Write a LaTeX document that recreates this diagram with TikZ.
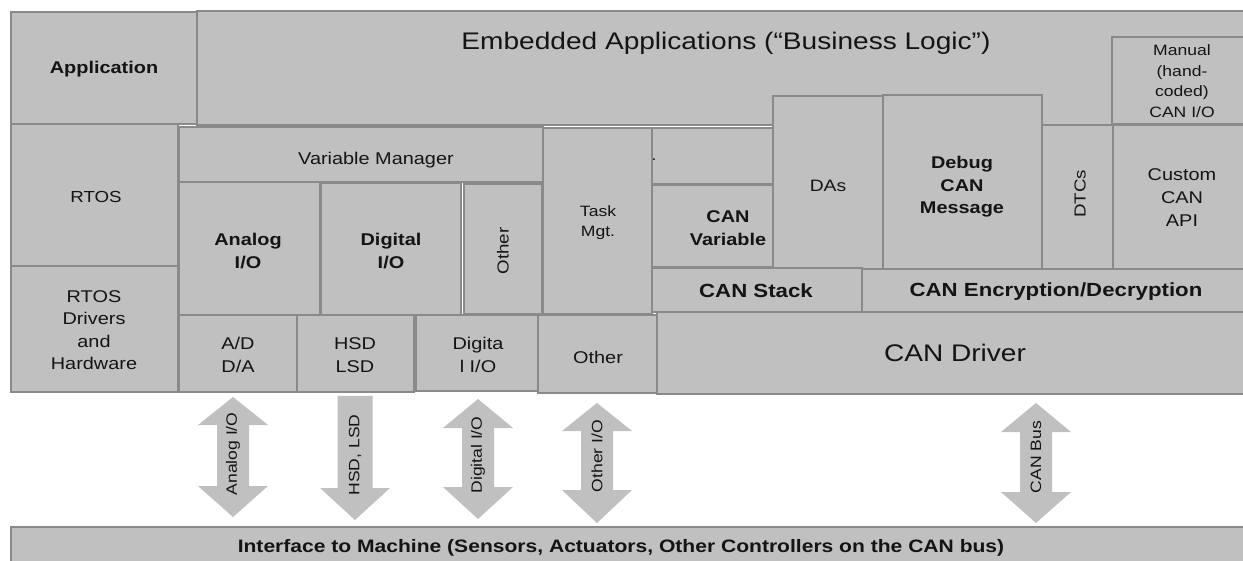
\documentclass[tikz,border=0pt]{standalone}
\usepackage{fontspec}
\setmainfont{Liberation Sans}[FakeStretch=1.17]
\usetikzlibrary{calc}

\definecolor{panel}{HTML}{C0C0C0}
\definecolor{edge}{HTML}{8A8A8A}
\definecolor{ink}{HTML}{141414}

\tikzset{
  blk/.style={draw=edge, fill=panel, line width=1.4pt, inner sep=0pt, outer sep=0pt},
  lbl/.style={text=ink, align=center, inner sep=0pt},
  fs/.style 2 args={font=\fontsize{#1}{#2}\selectfont},
  fb/.style 2 args={font=\fontsize{#1}{#2}\selectfont\bfseries},
  iolbl/.style={text=ink, inner sep=0pt, rotate=90, font=\fontsize{15}{18}\selectfont},
  fatarrow/.style={fill=panel, draw=none}
}

% layer box: name, left, top, right, bottom (pixel units, y downward)
\newcommand{\layerbox}[5]{%
  \pgfmathsetmacro{\lbw}{#4-#2}\pgfmathsetmacro{\lbh}{#5-#3}%
  \node[blk, minimum width=\lbw pt, minimum height=\lbh pt, anchor=north west] (#1) at (#2,#3) {};}

% two-headed fat arrow: centre x, top tip, bottom tip, top head length, bottom head length
\newcommand{\biarrow}[5]{%
  \fill[fatarrow] (#1,#2) -- ++(35,#4) -- ++(-19,0) |- ($(#1,#3)+(16,-#5)$) -- ++(19,0)
    -- (#1,#3) -- ++(-35,-#5) -- ++(19,0) |- ($(#1,#2)+(-16,#4)$) -- ++(-19,0) -- cycle;}

% one-headed fat arrow pointing down: centre x, shaft top, tip, head length
\newcommand{\outarrow}[4]{%
  \fill[fatarrow] ($(#1,#2)+(-17.5,0)$) -- ++(35,0) |- ($(#1,#3)+(35,-#4)$)
    -- (#1,#3) -- ++(-35,-#4) -| cycle;}

\begin{document}
\begin{tikzpicture}[x=1pt, y=-1pt]
\clip (0,0) rectangle (1243,561);
\fill[white] (0,0) rectangle (1243,561);

% application layer
\layerbox{emb}{197}{11}{1246}{125}
\layerbox{app}{11}{12}{197}{124}
\layerbox{man}{1112}{37}{1246}{124}
\layerbox{das}{773}{96}{883}{269}
\layerbox{dbg}{883}{95}{1042}{269}
\layerbox{dtc}{1042}{125}{1113}{269}
\layerbox{cus}{1113}{125}{1246}{269}

% middleware layer
\layerbox{rtos}{11}{124}{178}{266}
\layerbox{rdrv}{11}{266}{178}{392}
\layerbox{vm}{179}{127}{543}{182}
\layerbox{task}{543}{128}{652}{314}
\layerbox{dot}{652}{128}{773}{184}
\layerbox{canv}{652}{185}{773}{267}
\layerbox{ana}{179}{182}{320}{315}
\layerbox{dig}{321}{183}{461}{315}
\layerbox{oth}{464}{184}{542}{314}
\layerbox{cstk}{652}{268}{862}{312}
\layerbox{cenc}{862}{269}{1246}{313}

% driver layer
\layerbox{cdrv}{657}{312}{1246}{394}
\layerbox{ad}{179}{315}{297}{392}
\layerbox{hsd}{297}{315}{414}{392}
\layerbox{dio}{416}{315}{538}{391}
\layerbox{othb}{538}{315}{657}{393}

% machine interface
\layerbox{ifc}{11}{527}{1246}{566}

% labels
\node[lbl, fs={24}{28}] at (726,43) {Embedded Applications (“Business Logic”)};
\node[lbl, fb={17}{21}] at (104,69) {Application};
\node[lbl, fs={15}{20.5}] at (1182,81) {Manual\\(hand-\\coded)\\CAN I/O};
\node[lbl, fs={17}{21}] at (376,160) {Variable Manager};
\node[lbl, fs={16}{21}] at (96,197) {RTOS};
\node[lbl, fs={17}{22.5}] at (94,330) {RTOS\\Drivers\\and\\Hardware};
\node[lbl, fb={17}{23}] at (248,251) {Analog\\I/O};
\node[lbl, fb={17}{23}] at (391,251) {Digital\\I/O};
\node[lbl, fs={16}{20}, rotate=90] at (503,251) {Other};
\node[lbl, fs={15}{20}] at (598,223) {Task\\Mgt.};
\node[lbl, fs={15}{20}] at (654,160) {.};
\node[lbl, fb={17}{23}] at (728,228) {CAN\\Variable};
\node[lbl, fs={16.5}{21}] at (828,186) {DAs};
\node[lbl, fb={17}{22.5}] at (962,187) {Debug\\CAN\\Message};
\node[lbl, fs={16}{20}, rotate=90] at (1080,194) {DTCs};
\node[lbl, fs={17}{23}] at (1182,198) {Custom\\CAN\\API};
\node[lbl, fb={19}{23}] at (756,291) {CAN Stack};
\node[lbl, fb={19}{23}] at (1056,292) {CAN Encryption/Decryption};
\node[lbl, fs={24}{28}] at (955,353) {CAN Driver};
\node[lbl, fs={17}{23}] at (238,355) {A/D\\D/A};
\node[lbl, fs={17}{23}] at (355,355) {HSD\\LSD};
\node[lbl, fs={17}{23}] at (478,355) {Digita\\l I/O};
\node[lbl, fs={17}{23}] at (598,357) {Other};
\node[lbl, fb={18}{22}] at (621,548) {Interface to Machine (Sensors, Actuators, Other Controllers on the CAN bus)};

% signal paths between the drivers and the machine
\biarrow{233}{397}{517}{28}{31}
\node[iolbl] (aio) at (233,454) {Analog I/O};
\outarrow{355}{396}{520}{32}
\node[iolbl] (hio) at (355,455) {HSD, LSD};
\biarrow{478}{399}{519}{29}{32}
\node[iolbl] (dgio) at (478,455) {Digital I/O};
\biarrow{597}{403}{523}{28}{33}
\node[iolbl] (oio) at (597,456) {Other I/O};
\biarrow{1036}{403}{523}{29}{31}
\node[iolbl] (cbus) at (1036,457) {CAN Bus};
\end{tikzpicture}
\end{document}
